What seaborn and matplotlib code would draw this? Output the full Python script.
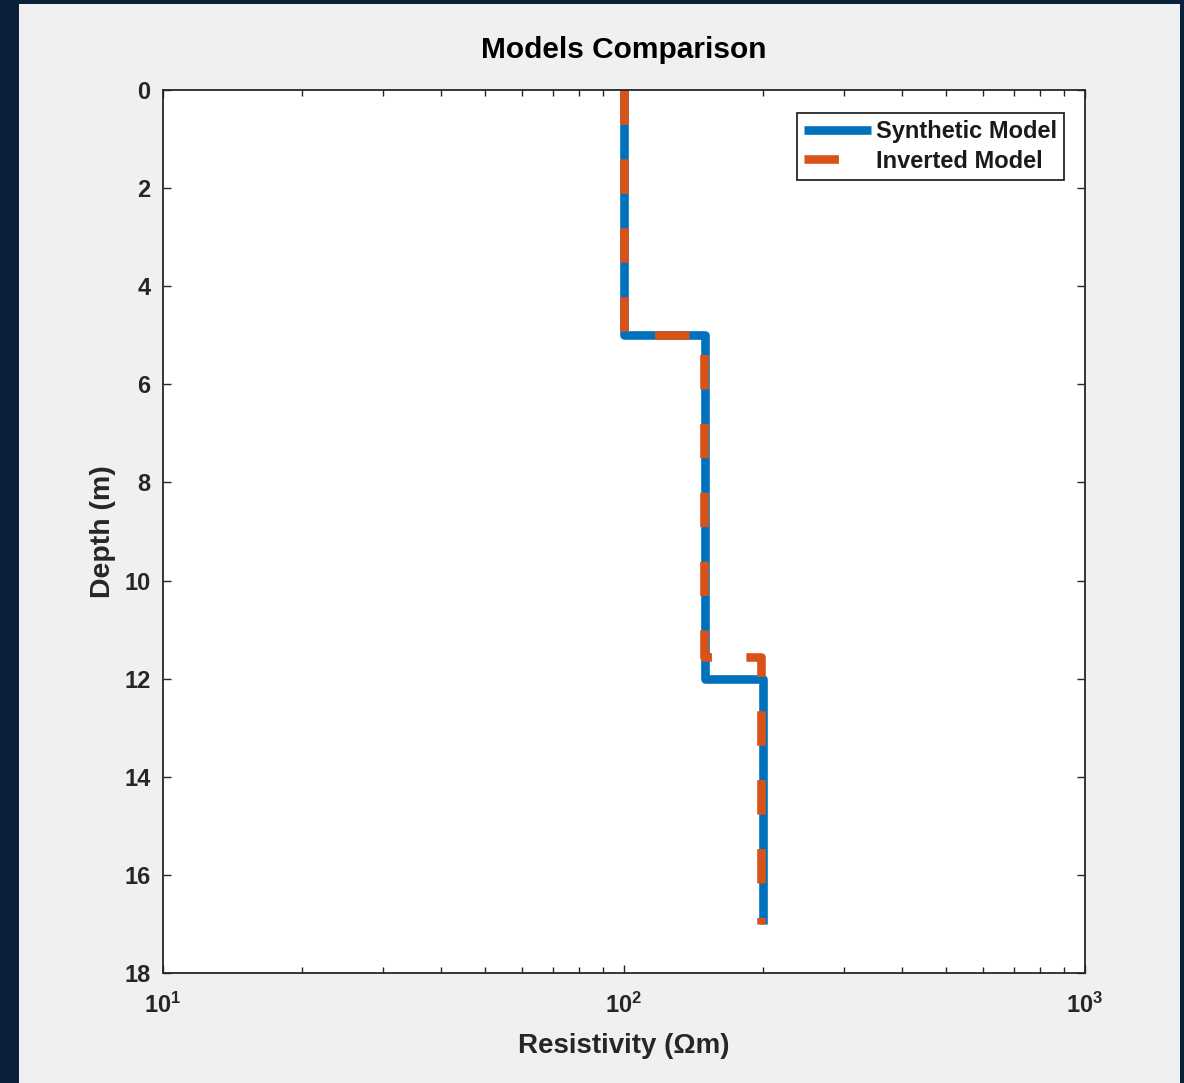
import numpy as np
import pandas as pd
import matplotlib
matplotlib.use("Agg")
import matplotlib.pyplot as plt
import matplotlib.patches as mpatches
from matplotlib.ticker import LogLocator, NullFormatter, FixedLocator
import seaborn as sns

# ---- data ----
synthetic_boundaries = [0, 5, 12, 17]          # depth (m) of layer tops/bottoms
synthetic_resistivity = [100, 150, 200]        # Ohm m per layer
inverted_boundaries = [0, 5, 11.55, 17]
inverted_resistivity = [100, 149, 198]
series_labels = ["Synthetic Model", "Inverted Model"]
ytick_values = [0, 2, 4, 6, 8, 10, 12, 14, 16, 18]
xtick_values = [10, 100, 1000]
xtick_labels = [r"$\mathbf{10^{1}}$", r"$\mathbf{10^{2}}$", r"$\mathbf{10^{3}}$"]


def step_profile(bounds, res):
    depth, rho = [], []
    for i, r in enumerate(res):
        depth += [bounds[i], bounds[i + 1]]
        rho += [r, r]
    return pd.DataFrame({"Resistivity": rho, "Depth": depth})


syn = step_profile(synthetic_boundaries, synthetic_resistivity)
inv = step_profile(inverted_boundaries, inverted_resistivity)

sns.set_theme(style="white")
plt.rcParams["font.family"] = ["Liberation Sans", "DejaVu Sans"]
plt.rcParams["mathtext.fontset"] = "custom"
plt.rcParams["mathtext.rm"] = "Liberation Sans:bold"
plt.rcParams["mathtext.bf"] = "Liberation Sans:bold"
plt.rcParams["mathtext.it"] = "Liberation Sans:bold"

W, H = 1184, 1083
fig = plt.figure(figsize=(W / 100, H / 100), dpi=100, facecolor="#0b203b")
bg = mpatches.Rectangle((19 / W, 0), (1180 - 19) / W, (H - 4) / H,
                        transform=fig.transFigure, facecolor="#f0f0f0",
                        edgecolor="none", zorder=-10)
fig.add_artist(bg)
ax = fig.add_axes([163 / W, 1 - 973 / H, (1085 - 163) / W, (973 - 90) / H])
ax.set_zorder(1)
ax.set_facecolor("white")

blue = "#0072BD"
orange = "#D95319"
lw = 6.2
sns.lineplot(data=syn, x="Resistivity", y="Depth", sort=False, estimator=None,
             color=blue, linewidth=lw, label=series_labels[0], ax=ax,
             solid_joinstyle="round", solid_capstyle="butt")
sns.lineplot(data=inv, x="Resistivity", y="Depth", sort=False, estimator=None,
             color=orange, linewidth=lw, label=series_labels[1], ax=ax,
             linestyle=(0, (4.0, 4.0)), dash_joinstyle="round", dash_capstyle="butt")

ax.set_xscale("log")
ax.set_xlim(10, 1000)
ax.set_ylim(18, 0)
ax.set_yticks(ytick_values)
ax.set_yticklabels([str(v) for v in ytick_values])
ax.xaxis.set_major_locator(FixedLocator(xtick_values))
ax.set_xticklabels(xtick_labels)
ax.xaxis.set_minor_locator(LogLocator(base=10, subs=np.arange(2, 10)))
ax.xaxis.set_minor_formatter(NullFormatter())

spine_c = "#262626"
for s in ax.spines.values():
    s.set_color(spine_c)
    s.set_linewidth(1.3)
    s.set_visible(True)

ax.tick_params(axis="both", which="both", direction="in", top=True, right=True,
               bottom=True, left=True, color=spine_c, width=1.0)
ax.tick_params(axis="both", which="major", length=6, labelsize=17, labelcolor="#262626")
ax.tick_params(axis="x", which="major", pad=14)
ax.tick_params(axis="y", which="major", pad=9)
ax.tick_params(axis="x", which="minor", length=4)
for t in ax.get_yticklabels():
    t.set_fontweight("bold")

ax.set_xlabel("Resistivity (Ωm)", fontsize=20, fontweight="bold", color="#262626", labelpad=11)
ax.set_ylabel("Depth (m)", fontsize=20.5, fontweight="bold", color="#262626", labelpad=6)
ax.set_title("Models Comparison", fontsize=21.5, fontweight="bold", color="black", pad=23)

leg = ax.legend(loc="upper right", bbox_to_anchor=((1064 - 163) / 922, 1 - (113 - 90) / 883),
                fontsize=17, frameon=True, fancybox=False, framealpha=1,
                handlelength=2.85, handletextpad=0.2, labelspacing=0.28,
                borderpad=0.3, borderaxespad=0)
leg.get_frame().set_edgecolor(spine_c)
leg.get_frame().set_linewidth(1.3)
for t in leg.get_texts():
    t.set_fontweight("bold")
    t.set_color("#1a1a1a")

fig.savefig("out.png", dpi=100, facecolor=fig.get_facecolor())
